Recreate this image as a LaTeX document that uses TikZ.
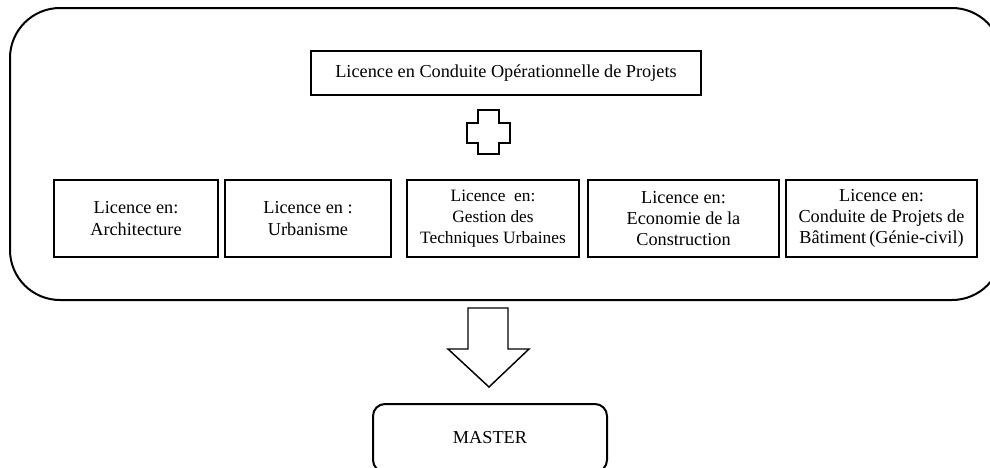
\documentclass[tikz,border=0pt]{standalone}
\usepackage{fontspec}
\setmainfont{Liberation Serif}
\usetikzlibrary{positioning}

\tikzset{
  licbox/.style={draw, line width=1.5pt, minimum height=57.75pt, align=center, inner sep=1pt},
  shapeline/.style={draw, line width=1.1pt, line join=miter},
}

\begin{document}
\begin{tikzpicture}[x=0.75pt, y=-0.75pt, font=\fontsize{13.7}{16}\selectfont]
    \useasboundingbox (0,0) rectangle (990,468);
    \clip (0,0) rectangle (990,468);
    % outer frame
    \draw[line width=1.5pt, rounded corners=37.5pt] (10,8) rectangle (1002,300);
    \node[draw, line width=1.5pt, minimum width=292.5pt, minimum height=33pt] (cop) at (506,73) {Licence en Conduite Opérationnelle de Projets};
    % plus sign
    \draw[shapeline] (478,110) -- (499,110) -- (499,123) -- (510,123) -- (510,143) -- (499,143) -- (499,154)
        -- (478,154) -- (478,143) -- (467,143) -- (467,123) -- (478,123) -- cycle;
    \node[licbox, minimum width=123pt, font=\fontsize{13.7}{16.5}\selectfont] (archi) at (136,218.5) {Licence en:\\Architecture};
    \node[licbox, minimum width=124.5pt, font=\fontsize{13.7}{16.5}\selectfont] (urba) at (308,218.5) {Licence en :\\Urbanisme};
    \node[licbox, minimum width=129pt, font=\fontsize{13}{15.5}\selectfont] (gtu) at (493,218.5) {Licence\ \ en:\\Gestion des\\Techniques Urbaines};
    \node[licbox, minimum width=143.25pt] (eco) at (683.5,218.5) {Licence en:\\Economie de la\\Construction};
    \node[licbox, minimum width=143.25pt] (cpb) at (881.5,218.5) {Licence en:\\Conduite de Projets de\\Bâtiment\,(Génie-civil)};
    % big arrow down
    \draw[shapeline] (468,308) -- (508,308) -- (508,349) -- (529,349) -- (489,387) -- (448,349) -- (468,349) -- cycle;
    \node[draw, line width=1.5pt, rounded corners=9pt, minimum width=175.5pt, minimum height=51pt] (master) at (490,438) {MASTER};
\end{tikzpicture}
\end{document}
